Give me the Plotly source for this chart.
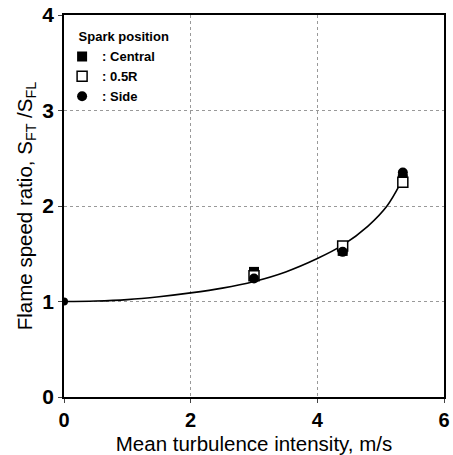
import plotly.graph_objects as go

# data
x_pts = [3.0, 4.4, 5.35]
central = [1.31, 1.53, 2.28]
half_r = [1.27, 1.58, 2.25]
side = [1.24, 1.52, 2.35]
origin_x = [0.0]
origin_y = [1.0]

curve_x = [0.0, 0.5, 1.0, 1.5, 2.0, 2.5, 3.0, 3.5, 4.0, 4.4, 4.8, 5.1, 5.3]
curve_y = [1.0, 1.005, 1.02, 1.05, 1.09, 1.14, 1.21, 1.31, 1.45, 1.59, 1.79, 2.0, 2.22]

x_ticks = [0, 2, 4, 6]
y_ticks = [0, 1, 2, 3, 4]

font = "Liberation Sans, Arial, sans-serif"

fig = go.Figure()
fig.add_trace(go.Scatter(x=curve_x, y=curve_y, mode="lines", line=dict(color="black", width=1.6,
                         shape="spline"), showlegend=False, hoverinfo="skip"))
fig.add_trace(go.Scatter(x=origin_x, y=origin_y, mode="markers",
                         marker=dict(symbol="circle", size=8, color="black"), showlegend=False))
fig.add_trace(go.Scatter(x=x_pts, y=central, mode="markers", name=": Central",
                         marker=dict(symbol="square", size=10, color="black")))
fig.add_trace(go.Scatter(x=x_pts, y=half_r, mode="markers", name=": 0.5R",
                         marker=dict(symbol="square", size=10, color="white",
                                     line=dict(color="black", width=1.5))))
fig.add_trace(go.Scatter(x=x_pts, y=side, mode="markers", name=": Side",
                         marker=dict(symbol="circle", size=10, color="black")))

fig.update_layout(
    width=453, height=455,
    margin=dict(l=64, r=3, t=12, b=55),
    paper_bgcolor="white", plot_bgcolor="white",
    font=dict(family=font, color="black"),
    legend=dict(x=-0.005, y=0.975, xanchor="left", yanchor="top",
                title=dict(text="&nbsp;&nbsp;&nbsp;&nbsp;<b>Spark position</b>", font=dict(size=13)),
                font=dict(size=13, family=font, weight="bold"),
                bgcolor="rgba(255,255,255,0)", tracegroupgap=0, itemwidth=30),
)
fig.update_xaxes(range=[0, 6], tickvals=x_ticks, ticks="outside", ticklen=4,
                 tickfont=dict(size=20, weight="bold"), ticklabeloverflow="allow",
                 title=dict(text="Mean turbulence intensity, m/s", font=dict(size=20.5), standoff=7),
                 showline=True, linecolor="black", linewidth=1.5, mirror=True,
                 showgrid=True, gridcolor="#999", griddash="dot", gridwidth=1, zeroline=False)
fig.update_yaxes(range=[0, 4], tickvals=y_ticks, ticks="outside", ticklen=4,
                 tickfont=dict(size=21, weight="bold"), ticklabeloverflow="allow",
                 title=dict(text="Flame speed ratio, S<sub>FT</sub> /S<sub>FL</sub>",
                            font=dict(size=20.5), standoff=4),
                 showline=True, linecolor="black", linewidth=1.5, mirror=True,
                 showgrid=True, gridcolor="#999", griddash="dot", gridwidth=1, zeroline=False)

fig.write_html("out.html")
